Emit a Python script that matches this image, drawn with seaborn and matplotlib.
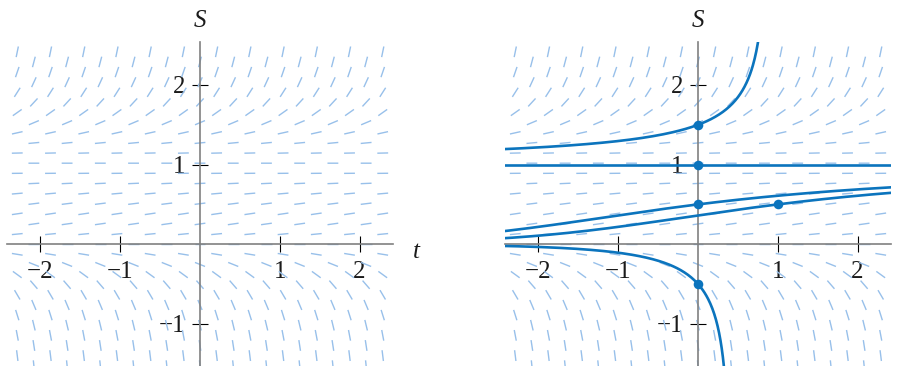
import numpy as np
import matplotlib.pyplot as plt
from matplotlib.collections import LineCollection
import seaborn as sns

# --- Data: slope field of dS/dt = S^3 - 2S^2 + S = S(S-1)^2 ---
ode_coef = [1, -2, 1, 0]

# initial conditions marked by dots on the right panel
start_t = [0, 0, 0, 1, 0]
start_S = [1.5, 1.0, 0.5, 0.5, -0.5]

t_ticks = [-2, -1, 1, 2]
S_ticks = [-1, 1, 2]

# staggered slope-field grid (index ranges)
col_idx = np.arange(-11, 12)
row_idx = np.arange(-12, 20)
col_step = 0.2083
row_step = 0.1272

# --- Styles ---
mark_color = '#98c0ea'
curve_color = '#0b74bd'
axis_color = '#808080'
t_lim = (-2.42, 2.42)
S_lim = (-1.53, 2.54)

sns.set_theme(style='white')
plt.rcParams['font.family'] = ['Liberation Serif', 'DejaVu Serif']
plt.rcParams['axes.unicode_minus'] = True


def slope(S):
    return np.polyval(ode_coef, S)


def implicit_F(S):
    # antiderivative of 1 / (S (S-1)^2)
    return np.log(np.abs(S / (S - 1))) - 1 / (S - 1)


def slope_segments():
    segs = []
    half = 0.068
    for j in col_idx:
        for k in row_idx:
            if (j + k) % 2:
                continue
            t0, S0 = j * col_step, k * row_step
            m = slope(S0)
            n = np.hypot(1, m)
            dx, dy = half / n, half * m / n
            segs.append([(t0 - dx, S0 - dy), (t0 + dx, S0 + dy)])
    return segs


def solution(t0, S0):
    if S0 == 1:
        return np.array([-2.6, 2.6]), np.array([1.0, 1.0])
    if S0 > 1:
        S = 1 + np.geomspace(1e-4, 1.7, 600)
    elif S0 > 0:
        S = np.linspace(0.01, 0.99, 600)
    else:
        S = -np.geomspace(1e-5, 1.7, 600)
    t = t0 + implicit_F(S) - implicit_F(S0)
    keep = (t > -2.6) & (t < 2.6)
    order = np.argsort(t[keep])
    return t[keep][order], S[keep][order]


def style_axes(ax):
    ax.set_xlim(*t_lim)
    ax.set_ylim(*S_lim)
    for side in ['top', 'right']:
        ax.spines[side].set_visible(False)
    for side in ['left', 'bottom']:
        ax.spines[side].set_position(('data', 0))
        ax.spines[side].set_color(axis_color)
        ax.spines[side].set_linewidth(1.2)
    ax.set_xticks(t_ticks)
    ax.set_yticks(S_ticks)
    ax.tick_params(bottom=True, left=True, direction='inout', length=12,
                   width=0.8, color='black', labelsize=18, labelcolor='#1a1a1a')
    ax.tick_params(axis='x', pad=6.0)
    ax.tick_params(axis='y', pad=4.5)
    ax.set_xlabel('')
    ax.set_ylabel('')
    ax.add_collection(LineCollection(slope_segments(), colors=mark_color,
                                     linewidths=1.0, zorder=1))
    ax.annotate('S', xy=(0, 1), xycoords=('data', 'axes fraction'),
                xytext=(0, 15), textcoords='offset points', ha='center',
                va='center', fontsize=18, fontstyle='italic', color='#1a1a1a')


fig = plt.figure(figsize=(9.03, 3.66), dpi=100)
ax_left = fig.add_axes([7 / 903, 0, 386 / 903, 324 / 366])
ax_right = fig.add_axes([505 / 903, 0, 386 / 903, 324 / 366])

style_axes(ax_left)
ax_left.annotate('t', xy=(1, 0), xycoords=('axes fraction', 'data'),
                 xytext=(14.5, -10), textcoords='offset points', ha='left',
                 va='baseline', fontsize=18, fontstyle='italic', color='#1a1a1a')

for t0, S0 in zip(start_t, start_S):
    tt, SS = solution(t0, S0)
    sns.lineplot(x=tt, y=SS, ax=ax_right, color=curve_color, linewidth=1.9,
                 sort=False, estimator=None, zorder=3)
sns.scatterplot(x=start_t, y=start_S, ax=ax_right, color=curve_color, s=48,
                linewidth=0, zorder=4)
style_axes(ax_right)

fig.savefig('out.png', dpi=100)
